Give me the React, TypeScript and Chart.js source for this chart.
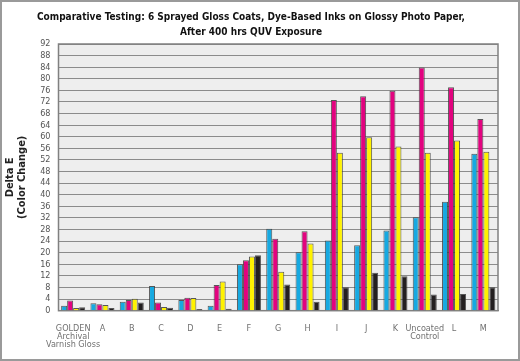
import React, { useEffect, useRef } from "react";
import { Chart, registerables } from "chart.js";

Chart.register(...registerables);

const categories: (string | string[])[] = [
  ["GOLDEN", "Archival", "Varnish Gloss"],
  "A", "B", "C", "D", "E", "F", "G", "H", "I", "J", "K",
  ["Uncoated", "Control"],
  "L", "M",
];

const cyanValues = [1.7, 2.6, 3.1, 8.5, 3.7, 1.7, 16.0, 28.3, 20.2, 24.2, 22.6, 27.7, 32.2, 37.6, 54.1];
const magentaValues = [3.5, 2.2, 3.7, 2.8, 4.5, 8.9, 17.4, 24.8, 27.4, 72.7, 74.0, 75.9, 83.9, 77.1, 66.1];
const yellowValues = [0.9, 2.0, 4.1, 1.3, 4.4, 10.1, 18.7, 13.4, 23.2, 54.5, 59.8, 56.6, 54.5, 58.7, 54.8];
const blackValues = [1.2, 0.9, 2.8, 1.0, 0.6, 0.7, 19.1, 9.0, 3.1, 8.1, 13.1, 11.9, 5.6, 5.8, 8.1];

const titleLines = [
  "Comparative Testing: 6 Sprayed Gloss Coats, Dye-Based Inks on Glossy Photo Paper,",
  "After 400 hrs QUV Exposure",
];
const yTitleLines = ["Delta E", "(Color Change)"];
const yMin = 0;
const yMax = 92;
const yStep = 4;

const NARROW = "'Liberation Sans Narrow', 'DejaVu Sans Condensed', 'Liberation Sans', Arial, sans-serif";

const framePlugin = {
  id: "framePlugin",
  beforeDraw(chart: any) {
    const { ctx, chartArea } = chart;
    ctx.save();
    ctx.fillStyle = "#ffffff";
    ctx.fillRect(0, 0, chart.width, chart.height);
    ctx.fillStyle = "#eeeeee";
    ctx.fillRect(chartArea.left, chartArea.top, chartArea.right - chartArea.left, chartArea.bottom - chartArea.top);
    ctx.restore();
  },
  beforeDatasetsDraw(chart: any) {
    const { ctx, chartArea } = chart;
    ctx.save();
    ctx.strokeStyle = "#808080";
    ctx.lineWidth = 1.5;
    ctx.strokeRect(chartArea.left, chartArea.top, chartArea.right - chartArea.left, chartArea.bottom - chartArea.top);
    ctx.restore();
  },
  afterDraw(chart: any) {
    const { ctx } = chart;
    ctx.save();
    ctx.strokeStyle = "#9a9a9a";
    ctx.lineWidth = 2;
    ctx.strokeRect(1, 1, chart.width - 2, chart.height - 2);
    ctx.restore();
  },
};

export default function App() {
  const canvasRef = useRef<HTMLCanvasElement | null>(null);

  useEffect(() => {
    if (!canvasRef.current) return;
    const border = "rgba(60,60,60,0.85)";
    const chart = new Chart(canvasRef.current, {
      type: "bar",
      data: {
        labels: categories,
        datasets: [
          { label: "Cyan", data: cyanValues, backgroundColor: "#16a9e1", borderColor: border, borderWidth: 1 },
          { label: "Magenta", data: magentaValues, backgroundColor: "#e2037f", borderColor: border, borderWidth: 1 },
          { label: "Yellow", data: yellowValues, backgroundColor: "#fff200", borderColor: border, borderWidth: 1 },
          { label: "Black", data: blackValues, backgroundColor: "#231f20", borderColor: border, borderWidth: 1 },
        ],
      },
      options: {
        animation: false,
        responsive: false,
        maintainAspectRatio: false,
        layout: { padding: { left: 4, right: 22, top: 8, bottom: 6 } },
        datasets: { bar: { categoryPercentage: 0.82, barPercentage: 1.0 } },
        plugins: {
          legend: { display: false },
          tooltip: { enabled: false },
          title: {
            display: true,
            text: titleLines,
            color: "#111111",
            font: { family: NARROW, size: 10, weight: "bold", lineHeight: 1.5 },
            padding: { top: 2, bottom: 4 },
          },
        },
        scales: {
          x: {
            grid: { display: false },
            border: { display: true, color: "#808080" },
            ticks: {
              color: "#707070",
              font: { family: NARROW, size: 9, lineHeight: 0.9 },
              padding: 6,
              maxRotation: 0,
              autoSkip: false,
            },
          },
          y: {
            min: yMin,
            max: yMax,
            grid: { color: "#8c8c8c", lineWidth: 1, drawTicks: false },
            border: { display: true, color: "#808080" },
            ticks: {
              stepSize: yStep,
              autoSkip: false,
              color: "#555555",
              font: { family: NARROW, size: 9 },
              padding: 8,
            },
            title: {
              display: true,
              text: yTitleLines,
              color: "#222222",
              font: { family: NARROW, size: 11, weight: "bold", lineHeight: 1.1 },
              padding: { top: 0, bottom: 4 },
            },
          },
        },
      },
      plugins: [framePlugin],
    } as any);
    return () => chart.destroy();
  }, []);

  return (
    <div style={{ position: "absolute", left: 0, top: 0, width: 520, height: 361 }}>
      <canvas ref={canvasRef} width={520} height={361} style={{ display: "block" }} />
    </div>
  );
}
